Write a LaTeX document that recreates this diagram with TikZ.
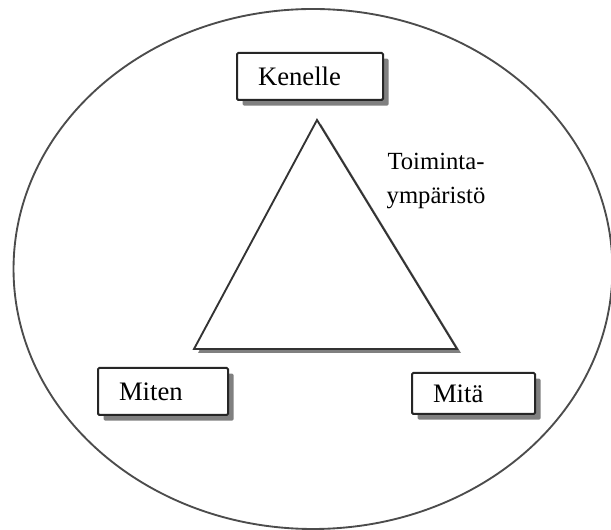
\documentclass[tikz,border=0pt]{standalone}
\usepackage{fontspec}
\setmainfont{Liberation Serif}
\usetikzlibrary{shadows}
\tikzset{
  box/.style={
    draw = black!85,
    line width = 1.5pt,
    rounded corners = 1pt,
    fill = white,
    align = left,
    inner xsep = 15.75pt,
    inner ysep = 0pt,
    drop shadow = {shadow xshift=4.2pt, shadow yshift=-4.2pt,
                   fill=black!50, opacity=1}
  },
  ring/.style={
    draw = black!70,
    line width = 1.4pt
  },
  tri/.style={
    draw = black!80,
    line width = 1.4pt,
    line join = miter,
    fill = white
  },
  every node/.style = {
    font=\fontsize{20}{22}\selectfont
  }
}

\begin{document}
\begin{tikzpicture}[x=0.75pt,y=-0.75pt]
  \useasboundingbox (0,0) rectangle (611,530);
  % outer ring
  \draw[ring] (313,269) ellipse [x radius=224.6pt, y radius=195pt];
  % triangle with its shadow
  \coordinate (top) at (317,120);
  \coordinate (bl) at (194,349);
  \coordinate (br) at (457,349);
  \fill[black!50] ([shift={(4,4)}]top) -- ([shift={(4,4)}]bl) -- ([shift={(4,4)}]br) -- cycle;
  \draw[tri] (top) -- (bl) -- (br) -- cycle;
  % corner boxes
  \node[box, text width=78pt, minimum height=35.25pt] (kenelle) at (310,76.5) {Kenelle};
  \node[box, text width=66pt, minimum height=35.25pt] (miten) at (163,391.5) {Miten};
  \node[box, text width=60.75pt, minimum height=30.75pt] (mita) at (473.5,393.5) {Mitä};
  \node[align=center, font=\fontsize{18.5}{25}\selectfont] (ymparisto) at (436,181) {Toiminta-\\ympäristö};
\end{tikzpicture}
\end{document}
